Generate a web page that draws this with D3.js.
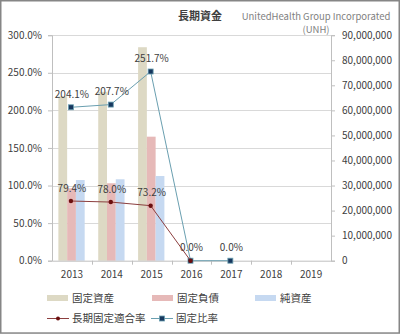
<!DOCTYPE html>
<html><head><meta charset="utf-8">
<script src="https://cdn.jsdelivr.net/npm/d3@7"></script>
<style>html,body{margin:0;padding:0;background:#fff;}svg{display:block;}</style>
</head><body>
<svg id="c" width="400" height="334"></svg>
<script>
const years = ["2013","2014","2015","2016","2017","2018","2019"];
const fixedAssets = [65600000, 67400000, 85200000, null, null, null, null];
const fixedLiabilities = [28900000, 30900000, 49500000, null, null, null, null];
const netAssets = [32200000, 32500000, 33800000, null, null, null, null];
const longTermFitRatio = [79.4, 78.0, 73.2, 0.0, null, null, null];
const fixedRatio = [204.1, 207.7, 251.7, 0.0, 0.0, null, null];
const leftTicks = [0, 50, 100, 150, 200, 250, 300];
const rightTicks = [0,10000000,20000000,30000000,40000000,50000000,60000000,70000000,80000000,90000000];
const title = "長期資金";
const company = "UnitedHealth Group Incorporated";
const ticker = "(UNH)";

const barSeries = [
  {name:"固定資産", values:fixedAssets, color:"#ddd9c4"},
  {name:"固定負債", values:fixedLiabilities, color:"#e6b9b8"},
  {name:"純資産", values:netAssets, color:"#c6d9f1"}
];
const lineSeries = [
  {name:"長期固定適合率", values:longTermFitRatio, line:"#8c3f3f", fill:"#6b0f0f", marker:"circle"},
  {name:"固定比率", values:fixedRatio, line:"#6a9fb0", fill:"#17375e", marker:"square"}
];

const svg = d3.select("#c");
const font = "'Noto Sans CJK JP','Noto Sans',sans-serif";
const L = 52, R = 331, T = 35.2, B = 260.7;

svg.append("rect").attr("x",0.75).attr("y",0.75).attr("width",398.5).attr("height",332.3)
  .attr("fill","#fff").attr("stroke","#868686").attr("stroke-width",1.5);

const x = d3.scaleBand().domain(years).range([L,R]).padding(0);
const bw = x.bandwidth();
const x1 = d3.scaleBand().domain(barSeries.map(d=>d.name)).range([bw*0.16, bw*0.82]).padding(0);
const yL = d3.scaleLinear().domain([0,300]).range([B,T]);
const yR = d3.scaleLinear().domain([0,90000000]).range([B,T]);

// gridlines
svg.append("g").selectAll("line").data(leftTicks.filter(d=>d>0)).join("line")
  .attr("x1",L).attr("x2",R).attr("y1",d=>Math.round(yL(d))+0.5).attr("y2",d=>Math.round(yL(d))+0.5)
  .attr("stroke","#d9d9d9").attr("stroke-width",1);

// bars
barSeries.forEach(s=>{
  svg.append("g").selectAll("rect").data(years.map((y,i)=>({y,v:s.values[i]})).filter(d=>d.v!=null)).join("rect")
    .attr("x",d=>x(d.y)+x1(s.name)).attr("width",x1.bandwidth())
    .attr("y",d=>yR(d.v)).attr("height",d=>B-yR(d.v)).attr("fill",s.color);
});

// axes
const axL = d3.axisLeft(yL).tickValues(leftTicks).tickSize(4).tickPadding(6).tickFormat(d=>d3.format(".1f")(d)+"%");
const gL = svg.append("g").attr("transform",`translate(${L},0)`).call(axL);
const axR = d3.axisRight(yR).tickValues(rightTicks).tickSize(4).tickPadding(7).tickFormat(d3.format(","));
const gR = svg.append("g").attr("transform",`translate(${R},0)`).call(axR);
const axB = d3.axisBottom(x).tickSize(0).tickPadding(10);
const gB = svg.append("g").attr("transform",`translate(0,${B})`).call(axB);
[gL,gR,gB].forEach(g=>{
  g.select(".domain").attr("stroke","#bfbfbf");
  g.selectAll(".tick line").attr("stroke","#bfbfbf");
  g.selectAll("text").attr("fill","#404040").style("font-family",font).style("font-size","10px");
});
// category boundary ticks on bottom axis
svg.append("g").selectAll("line").data(years.slice(1)).join("line")
  .attr("x1",d=>Math.round(x(d))+0.5).attr("x2",d=>Math.round(x(d))+0.5).attr("y1",B).attr("y2",B+4)
  .attr("stroke","#bfbfbf");

// lines
const labelled = new Set();
lineSeries.slice().reverse().forEach(s=>{
  const pts = years.map((y,i)=>({y,v:s.values[i]})).filter(d=>d.v!=null);
  const line = d3.line().x(d=>x(d.y)+bw/2-1).y(d=>yL(d.v));
  svg.append("path").datum(pts).attr("d",line).attr("fill","none").attr("stroke",s.line).attr("stroke-width",1);
  const g = svg.append("g");
  if (s.marker==="square") {
    g.selectAll("rect").data(pts).join("rect")
      .attr("x",d=>x(d.y)+bw/2-1-2.5).attr("y",d=>yL(d.v)-2.5).attr("width",5).attr("height",5)
      .attr("fill",s.fill).attr("stroke",s.line).attr("stroke-width",0.8);
  } else {
    g.selectAll("circle").data(pts).join("circle")
      .attr("cx",d=>x(d.y)+bw/2-1).attr("cy",d=>yL(d.v)).attr("r",2.2).attr("fill",s.fill);
  }
  // one label per position (coinciding zero labels are drawn once)
  const lp = pts.filter(d=>{const k=d.y+"|"+d.v; if(labelled.has(k)) return false; labelled.add(k); return true;});
  svg.append("g").selectAll("text").data(lp).join("text")
    .attr("x",d=>x(d.y)+bw/2).attr("y",d=>yL(d.v)-9.5).attr("text-anchor","middle")
    .attr("fill","#404040").style("font-family",font).style("font-size","10px")
    .text(d=>d3.format(".1f")(d.v)+"%");
});

// titles
svg.append("text").attr("x",200).attr("y",20).attr("text-anchor","middle")
  .style("font-family",font).style("font-size","11px").style("font-weight","bold").attr("fill","#404040").text(title);
svg.append("text").attr("x",316).attr("y",20).attr("text-anchor","middle")
  .style("font-family",font).style("font-size","9.5px").attr("fill","#7f7f7f").text(company);
svg.append("text").attr("x",316).attr("y",33).attr("text-anchor","middle")
  .style("font-family",font).style("font-size","9.5px").attr("fill","#7f7f7f").text(ticker);

// legend
const legBars = [{s:barSeries[0],x:47},{s:barSeries[1],x:152},{s:barSeries[2],x:255}];
legBars.forEach(o=>{
  svg.append("rect").attr("x",o.x).attr("y",295).attr("width",21).attr("height",6).attr("fill",o.s.color);
  svg.append("text").attr("x",o.x+25).attr("y",302).style("font-family",font).style("font-size","10.5px")
    .attr("fill","#404040").text(o.s.name);
});
const legLines = [{s:lineSeries[0],x:47},{s:lineSeries[1],x:151}];
legLines.forEach(o=>{
  svg.append("line").attr("x1",o.x).attr("x2",o.x+22).attr("y1",318.5).attr("y2",318.5).attr("stroke",o.s.line);
  if (o.s.marker==="square") {
    svg.append("rect").attr("x",o.x+11-2.5).attr("y",316).attr("width",5).attr("height",5)
      .attr("fill",o.s.fill).attr("stroke",o.s.line).attr("stroke-width",0.8);
  } else {
    svg.append("circle").attr("cx",o.x+11).attr("cy",318.5).attr("r",2).attr("fill",o.s.fill);
  }
  svg.append("text").attr("x",o.x+25).attr("y",322).style("font-family",font).style("font-size","10.5px")
    .attr("fill","#404040").text(o.s.name);
});
</script>
</body></html>
